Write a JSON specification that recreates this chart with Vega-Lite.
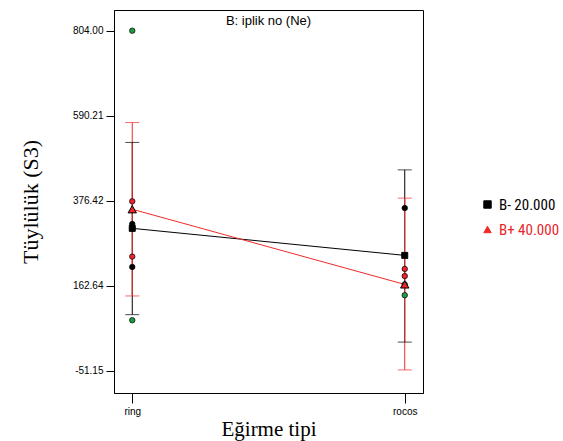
{
  "$schema": "https://vega.github.io/schema/vega-lite/v6.json",
  "autosize": "none",
  "width": 309,
  "height": 383,
  "padding": {"left": 114, "top": 10, "right": 140, "bottom": 48},
  "background": "white",
  "config": {"view": {"stroke": "black", "strokeWidth": 1}},
  "title": {"text": "B: iplik no (Ne)", "font": "Liberation Sans", "fontSize": 13, "fontWeight": "normal", "color": "black", "anchor": "middle", "frame": "group", "orient": "top", "baseline": "top", "offset": -18},
  "datasets": {
    "points": [
      {"tipi": "ring", "value": 804, "renk": "g"},
      {"tipi": "ring", "value": 375, "renk": "r"},
      {"tipi": "ring", "value": 318, "renk": "k"},
      {"tipi": "ring", "value": 236, "renk": "r"},
      {"tipi": "ring", "value": 210, "renk": "k"},
      {"tipi": "ring", "value": 76, "renk": "g"},
      {"tipi": "rocos", "value": 358, "renk": "k"},
      {"tipi": "rocos", "value": 205, "renk": "r"},
      {"tipi": "rocos", "value": 187, "renk": "r"},
      {"tipi": "rocos", "value": 166, "renk": "g"},
      {"tipi": "rocos", "value": 139, "renk": "g"}
    ],
    "means": [
      {"tipi": "ring", "B": "B- 20.000", "mean": 307, "lo": 90, "hi": 523},
      {"tipi": "rocos", "B": "B- 20.000", "mean": 239, "lo": 21, "hi": 454},
      {"tipi": "ring", "B": "B+ 40.000", "mean": 355, "lo": 137, "hi": 573},
      {"tipi": "rocos", "B": "B+ 40.000", "mean": 166, "lo": -49, "hi": 383}
    ]
  },
  "encoding": {
    "x": {"field": "tipi", "type": "nominal", "scale": {"type": "point", "padding": 0.067},
      "axis": {"title": "Eğirme tipi", "titleFont": "Liberation Serif", "titleFontSize": 21, "titleFontWeight": "normal", "titleColor": "black", "titlePadding": 2,
        "labelFont": "Liberation Sans", "labelFontSize": 10, "labelColor": "black", "labelAngle": 0, "labelPadding": 3,
        "tickSize": 10, "tickColor": "black", "domainColor": "black", "grid": false}}
  },
  "layer": [
    {
      "data": {"name": "means"},
      "mark": {"type": "rule", "strokeWidth": 1},
      "encoding": {
        "y": {"field": "lo", "type": "quantitative",
          "scale": {"domain": [-107, 856], "nice": false, "zero": false},
          "axis": {"values": [-51.15, 162.64, 376.42, 590.21, 804], "format": ".2f", "labelExpr": "replace(datum.label, '−', '-')", "title": "Tüylülük (S3)",
            "titleFont": "Liberation Serif", "titleFontSize": 22, "titleFontWeight": "normal", "titleColor": "black", "titlePadding": 30,
            "labelFont": "Liberation Sans", "labelFontSize": 10, "labelColor": "black", "labelPadding": 3,
            "tickSize": 8, "tickColor": "black", "domainColor": "black", "grid": false}},
        "y2": {"field": "hi"},
        "color": {"field": "B", "type": "nominal", "scale": {"domain": ["B- 20.000", "B+ 40.000"], "range": ["black", "#ee2b2b"]},
          "legend": {"title": null, "orient": "none", "legendX": 366, "legendY": 187, "labelFont": "Liberation Sans Narrow, Roboto Condensed, DejaVu Sans Condensed, Liberation Sans", "labelFontSize": 15, "rowPadding": 9, "symbolSize": 55, "symbolStrokeColor": "black", "symbolStrokeWidth": 1, "labelOffset": 4,
            "encode": {
              "labels": {"update": {"fill": {"signal": "datum.value == 'B+ 40.000' ? '#e8262b' : 'black'"}}},
              "symbols": {"update": {"fill": {"signal": "datum.value == 'B+ 40.000' ? '#e8262b' : 'black'"}, "stroke": {"value": "black"}, "strokeWidth": {"value": 1}}}
            }}}
      }
    },
    {
      "data": {"name": "means"},
      "mark": {"type": "tick", "size": 14, "thickness": 1},
      "encoding": {
        "y": {"field": "lo", "type": "quantitative"},
        "color": {"field": "B", "type": "nominal"}
      }
    },
    {
      "data": {"name": "means"},
      "mark": {"type": "tick", "size": 14, "thickness": 1},
      "encoding": {
        "y": {"field": "hi", "type": "quantitative"},
        "color": {"field": "B", "type": "nominal"}
      }
    },
    {
      "data": {"name": "means"},
      "mark": {"type": "line", "strokeWidth": 1},
      "encoding": {
        "y": {"field": "mean", "type": "quantitative"},
        "color": {"field": "B", "type": "nominal"}
      }
    },
    {
      "data": {"name": "points"},
      "mark": {"type": "point", "shape": "circle", "filled": true, "size": 30, "stroke": "black", "strokeWidth": 0.7, "opacity": 1},
      "encoding": {
        "y": {"field": "value", "type": "quantitative"},
        "fill": {"field": "renk", "type": "nominal", "scale": {"domain": ["g", "r", "k"], "range": ["#1f9a40", "#e8262b", "black"]}, "legend": null}
      }
    },
    {
      "data": {"name": "means"},
      "transform": [{"filter": "datum.B == 'B- 20.000'"}],
      "mark": {"type": "point", "filled": true, "fill": "black", "size": 36, "stroke": "black", "strokeWidth": 1, "opacity": 1},
      "encoding": {
        "y": {"field": "mean", "type": "quantitative"},
        "shape": {"field": "B", "type": "nominal", "scale": {"domain": ["B- 20.000", "B+ 40.000"], "range": ["square", "triangle-up"]},
          "legend": {"title": null, "orient": "none", "legendX": 366, "legendY": 187, "labelFont": "Liberation Sans Narrow, Roboto Condensed, DejaVu Sans Condensed, Liberation Sans", "labelFontSize": 15, "rowPadding": 9, "symbolSize": 55, "symbolStrokeColor": "black", "symbolStrokeWidth": 1, "labelOffset": 4,
            "encode": {
              "labels": {"update": {"fill": {"signal": "datum.value == 'B+ 40.000' ? '#e8262b' : 'black'"}}},
              "symbols": {"update": {"fill": {"signal": "datum.value == 'B+ 40.000' ? '#e8262b' : 'black'"}, "stroke": {"value": "black"}, "strokeWidth": {"value": 1}}}
            }}}
      }
    },
    {
      "data": {"name": "means"},
      "transform": [{"filter": "datum.B == 'B+ 40.000'"}],
      "mark": {"type": "point", "filled": true, "fill": "#e8262b", "size": 70, "stroke": "black", "strokeWidth": 1, "opacity": 1},
      "encoding": {
        "y": {"field": "mean", "type": "quantitative"},
        "shape": {"field": "B", "type": "nominal"}
      }
    }
  ]
}
